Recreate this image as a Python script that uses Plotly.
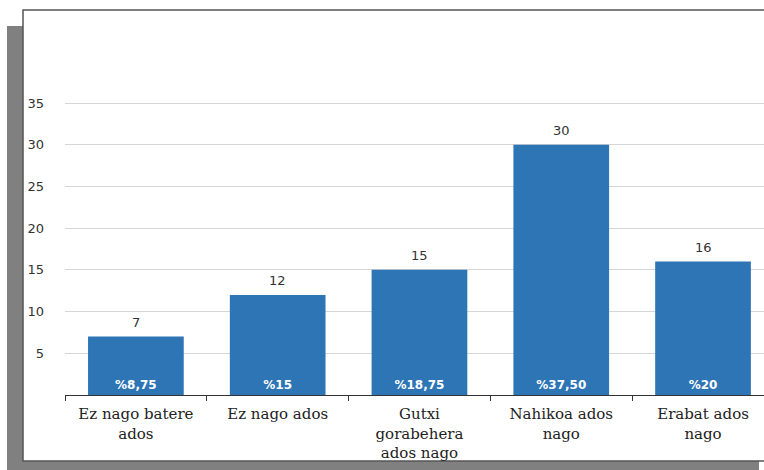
"""Bar chart – survey agreement answers with counts and shares."""
import plotly.graph_objects as go

categories = [
    "Ez nago batere<br>ados",
    "Ez nago ados",
    "Gutxi<br>gorabehera<br>ados nago",
    "Nahikoa ados<br>nago",
    "Erabat ados<br>nago",
]
counts = [7, 12, 15, 30, 16]
shares = ["%8,75", "%15", "%18,75", "%37,50", "%20"]
y_ticks = [5, 10, 15, 20, 25, 30, 35]

W, H = 764, 470
L, R, T, B = 65, 0, 60, 75
PW, PH = W - L - R, H - T - B


def px(x):  # pixel -> paper x
    return (x - L) / PW


def py(y):  # pixel -> paper y
    return (H - B - y) / PH


fig = go.Figure()
fig.add_trace(go.Bar(
    x=categories, y=counts,
    width=0.675,
    marker=dict(color="#2E75B6", line_width=0),
    text=shares,
    textposition="inside",
    insidetextanchor="start",
    textangle=0,
    textfont=dict(family="DejaVu Sans", size=12, color="white", weight="bold"),
    cliponaxis=False,
    showlegend=False,
))

# count labels above the bars
for cat, c in zip(categories, counts):
    fig.add_annotation(x=cat, y=c, text=str(c), showarrow=False,
                       yanchor="bottom", yshift=5,
                       font=dict(family="DejaVu Sans", size=13, color="#333333"))

shapes = [
    # shadow
    dict(x0=px(7), x1=px(23), y0=py(470), y1=py(26)),
    dict(x0=px(7), x1=px(759), y0=py(470), y1=py(461)),
]
shapes = [dict(type="rect", xref="paper", yref="paper", fillcolor="#808080",
               line_width=0, layer="below", **s) for s in shapes]
shapes.append(dict(type="rect", xref="paper", yref="paper",
                   x0=px(23), x1=px(768), y0=py(461), y1=py(10),
                   fillcolor="white", line=dict(color="#555555", width=1.5),
                   layer="below"))

fig.update_layout(
    width=W, height=H,
    margin=dict(l=L, r=R, t=T, b=B),
    paper_bgcolor="white",
    plot_bgcolor="rgba(0,0,0,0)",
    shapes=shapes,
    xaxis=dict(
        range=[-0.5, 4.43],
        showline=True, linecolor="#333333", linewidth=1,
        ticks="outside", tickson="boundaries", ticklen=5, tickcolor="#333333",
        ticklabelstandoff=5,
        tickfont=dict(family="DejaVu Serif", size=15, color="#222222"),
        showgrid=False,
    ),
    yaxis=dict(
        range=[0, PH / 8.343],
        tickvals=y_ticks,
        showgrid=True, gridcolor="#D6D6D6", gridwidth=1,
        zeroline=False,
        ticklabelstandoff=20,
        tickfont=dict(family="DejaVu Sans", size=13, color="#333333"),
    ),
)

fig.write_html("out.html", config={"displayModeBar": False},
               post_script="document.body.style.margin='0';")
